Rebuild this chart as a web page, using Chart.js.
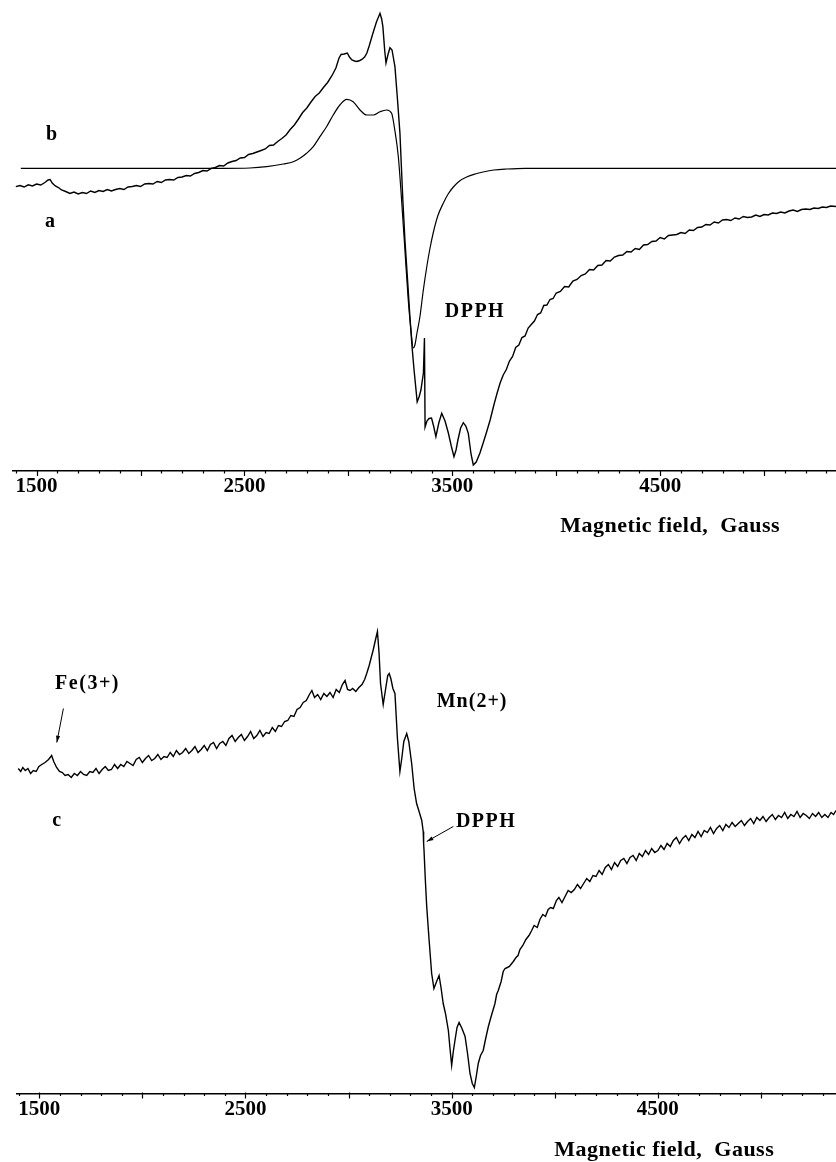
<!DOCTYPE html>
<html>
<head>
<meta charset="utf-8">
<title>EPR spectra</title>
<script src="https://cdn.jsdelivr.net/npm/chart.js@4.4.1/dist/chart.umd.min.js"></script>
<style>
  html, body { margin: 0; padding: 0; background: #fff; }
  body { width: 836px; height: 1162px; position: relative; overflow: hidden; }
  canvas { position: absolute; left: 0; }
  #topChart { top: 0; }
  #bottomChart { top: 560px; }
</style>
</head>
<body>
<canvas id="topChart" width="836" height="545"></canvas>
<canvas id="bottomChart" width="836" height="602"></canvas>
<script>
// magnetic field (Gauss) and signal (arbitrary units)
var labelTicks = [1500, 2500, 3500, 4500];

// top panel, spectrum a (noisy)
var fieldA = [1400, 1420, 1440, 1460, 1480, 1500, 1520, 1540, 1555, 1565, 1575, 1590, 1605, 1620, 1640, 1660, 1680, 1700, 1720, 1740,
  1760, 1780, 1800, 1820, 1840, 1860, 1880, 1900, 1920, 1940, 1960, 1980, 2000, 2020, 2040, 2060, 2080, 2100, 2120, 2140,
  2160, 2180, 2200, 2220, 2240, 2260, 2280, 2300, 2320, 2340, 2360, 2380, 2400, 2420, 2440, 2460, 2480, 2500, 2520, 2540,
  2560, 2580, 2600, 2620, 2640, 2660, 2680, 2700, 2720, 2740, 2760, 2780, 2800, 2820, 2840, 2860, 2880, 2900, 2920, 2940,
  2955, 2965, 2980, 2995, 3005, 3017, 3030, 3041, 3055, 3065, 3078, 3089, 3100, 3118, 3135, 3152, 3160, 3166, 3175, 3181,
  3190, 3200, 3210, 3224, 3235, 3248, 3262, 3272, 3285, 3296, 3306, 3316, 3331, 3340, 3349, 3361, 3366, 3369, 3378, 3388,
  3400, 3410, 3421, 3435, 3449, 3465, 3481, 3495, 3508, 3518, 3527, 3540, 3553, 3565, 3577, 3590, 3601, 3615, 3633, 3650,
  3665, 3682, 3700, 3715, 3730, 3745, 3760, 3775, 3790, 3805, 3820, 3835, 3850, 3865, 3880, 3895, 3910, 3925, 3940, 3955,
  3970, 3985, 4000, 4020, 4040, 4060, 4080, 4100, 4120, 4140, 4160, 4180, 4200, 4220, 4240, 4260, 4280, 4300, 4320, 4340,
  4360, 4380, 4400, 4420, 4440, 4460, 4480, 4500, 4520, 4540, 4560, 4580, 4600, 4620, 4640, 4660, 4680, 4700, 4720, 4740,
  4760, 4780, 4800, 4820, 4840, 4860, 4880, 4900, 4920, 4940, 4960, 4980, 5000, 5020, 5040, 5060, 5080, 5100, 5120, 5140,
  5160, 5180, 5200, 5220, 5240, 5260, 5280, 5300, 5320, 5346];
var signalA = [284.3, 285.5, 284.0, 286.2, 285.0, 287.0, 286.0, 288.5, 291.0, 291.5, 288.0, 285.0, 283.5, 281.0, 279.5, 277.5, 279.0, 277.0, 278.5, 277.5,
  280.0, 278.5, 280.5, 279.5, 281.5, 280.0, 281.5, 282.5, 281.5, 284.0, 284.5, 285.5, 284.5, 287.0, 287.5, 287.0, 289.5, 288.5, 291.0, 291.5,
  291.0, 293.5, 294.0, 295.5, 295.0, 297.5, 298.5, 300.5, 300.0, 302.5, 303.5, 305.5, 305.0, 308.0, 309.5, 310.5, 313.0, 313.5, 316.5, 317.5,
  319.0, 320.5, 322.0, 325.5, 326.0, 329.5, 332.5, 336.0, 341.5, 346.0, 352.0, 358.5, 363.0, 369.0, 374.5, 378.0, 383.5, 388.5, 395.0, 403.0,
  413.0, 416.5, 417.0, 418.0, 414.0, 411.0, 410.0, 409.5, 410.5, 411.5, 414.0, 418.0, 425.0, 437.7, 449.0, 457.7, 452.0, 444.3, 420.0, 408.0,
  416.0, 423.3, 421.0, 404.3, 375.0, 338.0, 271.0, 231.0, 190.0, 154.3, 125.0, 101.0, 69.3, 74.0, 81.0, 98.0, 133.0, 44.0, 50.0, 52.5,
  53.0, 45.0, 34.3, 48.0, 57.7, 50.0, 38.0, 25.0, 14.3, 21.0, 31.0, 43.0, 48.3, 45.0, 37.7, 17.0, 6.0, 9.0, 18.0, 29.0,
  39.0, 51.0, 66.0, 77.5, 88.0, 96.0, 101.5, 110.0, 114.5, 123.5, 126.0, 133.5, 135.0, 143.0, 146.5, 150.0, 156.5, 158.0, 165.5, 166.0,
  171.5, 172.5, 178.0, 179.5, 184.5, 184.0, 190.0, 191.5, 195.5, 197.0, 201.5, 201.0, 205.5, 206.0, 210.5, 210.0, 214.0, 215.5, 216.0, 219.5,
  219.0, 222.5, 221.5, 226.0, 226.5, 229.5, 230.0, 233.5, 232.0, 235.5, 236.0, 236.5, 238.5, 237.5, 241.0, 240.5, 243.5, 244.0, 246.5, 246.0,
  249.0, 248.0, 251.0, 251.5, 250.5, 253.0, 252.0, 254.5, 253.5, 254.0, 256.0, 254.5, 256.5, 256.0, 258.0, 257.5, 259.0, 258.0, 260.0, 261.0,
  259.5, 261.5, 262.0, 261.5, 263.0, 262.5, 264.0, 263.5, 265.0, 264.5];

// top panel, spectrum b (smooth)
var fieldB = [1424, 2300, 2400, 2526, 2607, 2687, 2735, 2767, 2799, 2831, 2863, 2895, 2927, 2959, 2992, 3023, 3056, 3088, 3120, 3152,
  3184, 3208, 3224, 3240, 3256, 3272, 3288, 3301, 3312, 3320, 3330, 3344, 3360, 3377, 3392, 3408, 3430, 3457, 3480, 3505,
  3535, 3569, 3610, 3648, 3700, 3762, 3850, 5346];
var signalB = [302.7, 302.7, 302.7, 303, 304.3, 307, 309.3, 312.7, 317.7, 324.3, 334.3, 344.3, 356, 366, 371.7, 369.3, 361, 356, 356, 359.3,
  361, 357.7, 340, 315, 271, 221, 171, 141, 123, 126, 138, 154, 180, 204, 222, 238, 255, 268, 277, 284,
  290, 294, 297, 299, 301, 302, 302.7, 302.7];

// bottom panel, spectrum c (noisy)
var fieldC = [1398, 1410, 1420, 1432, 1445, 1458, 1471, 1485, 1498, 1512, 1528, 1545, 1560, 1570, 1584, 1598, 1612, 1625, 1640, 1655,
  1670, 1685, 1700, 1715, 1730, 1745, 1760, 1775, 1790, 1805, 1820, 1835, 1850, 1865, 1880, 1895, 1910, 1925, 1940, 1955,
  1970, 1985, 2000, 2015, 2030, 2045, 2060, 2075, 2090, 2105, 2120, 2135, 2150, 2165, 2180, 2195, 2210, 2225, 2240, 2255,
  2270, 2285, 2300, 2315, 2330, 2345, 2360, 2375, 2390, 2405, 2420, 2435, 2450, 2465, 2480, 2495, 2510, 2525, 2540, 2555,
  2570, 2585, 2600, 2615, 2630, 2645, 2660, 2675, 2690, 2705, 2720, 2735, 2750, 2765, 2780, 2795, 2810, 2822, 2835, 2850,
  2865, 2880, 2895, 2910, 2925, 2940, 2955, 2970, 2983, 2995, 3007, 3020, 3035, 3050, 3065, 3078, 3088, 3100, 3110, 3120,
  3132, 3140, 3148, 3155, 3168, 3180, 3190, 3197, 3205, 3215, 3225, 3237, 3249, 3258, 3268, 3282, 3292, 3306, 3318, 3330,
  3342, 3355, 3362, 3364, 3366, 3372, 3379, 3390, 3403, 3414, 3427, 3439, 3449, 3459, 3470, 3484, 3492, 3500, 3508, 3516,
  3526, 3536, 3550, 3565, 3577, 3589, 3600, 3610, 3620, 3629, 3640, 3653, 3665, 3678, 3690, 3700, 3710, 3718, 3726, 3740,
  3750, 3759, 3770, 3780, 3799, 3812, 3822, 3831, 3845, 3860, 3875, 3888, 3900, 3915, 3928, 3942, 3955, 3968, 3980, 3993,
  4008, 4020, 4035, 4050, 4065, 4080, 4095, 4110, 4125, 4140, 4155, 4170, 4185, 4200, 4215, 4230, 4245, 4260, 4275, 4290,
  4305, 4320, 4335, 4350, 4365, 4380, 4395, 4410, 4425, 4440, 4455, 4470, 4485, 4500, 4515, 4530, 4545, 4560, 4575, 4590,
  4605, 4620, 4635, 4650, 4665, 4680, 4695, 4710, 4725, 4740, 4755, 4770, 4785, 4800, 4815, 4830, 4845, 4860, 4875, 4890,
  4905, 4920, 4935, 4950, 4965, 4980, 4995, 5010, 5025, 5040, 5055, 5070, 5085, 5100, 5115, 5130, 5145, 5160, 5175, 5190,
  5205, 5220, 5235, 5250, 5265, 5280, 5295, 5310, 5325, 5340, 5352, 5364];
var signalC = [325, 322, 326, 323, 325, 320, 323, 322, 327, 329, 331, 334, 338, 332, 326, 322, 321, 318, 319, 316,
  320, 318, 322, 319, 318, 322, 321, 325, 320, 324, 327, 323, 324, 329, 325, 329, 327, 332, 330, 328,
  334, 336, 331, 335, 338, 333, 335, 339, 334, 337, 336, 341, 337, 343, 339, 341, 345, 340, 343, 347,
  341, 344, 348, 343, 349, 351, 345, 350, 352, 348, 355, 358, 352, 356, 359, 353, 357, 362, 355, 358,
  363, 357, 361, 360, 366, 362, 368, 367, 372, 373, 378, 377, 384, 386, 391, 393, 399, 403, 396, 399,
  394, 400, 397, 401, 396, 404, 401, 409, 413, 404, 403, 405, 402, 406, 409, 414, 420, 428, 436, 444,
  455, 462, 440, 410, 389, 405, 418, 420, 415, 405, 400, 355, 322, 335, 352, 360, 352, 330, 305, 290,
  282, 273, 262, 250, 243, 215, 187, 155, 120, 105, 112, 118, 105, 90, 80, 63, 45, 28, 42, 53,
  66, 71, 65, 57, 40, 20, 10, 6, 18, 30, 38, 43, 55, 67, 76, 83, 90, 99, 103, 112,
  122, 125, 126, 127, 132, 136, 138, 144, 148, 154, 158, 163, 168, 166, 174, 179, 177, 184, 186, 185,
  193, 196, 191, 197, 203, 201, 204, 209, 205, 210, 215, 212, 218, 217, 223, 219, 226, 229, 224, 231,
  227, 233, 235, 230, 236, 238, 233, 240, 237, 243, 239, 245, 241, 243, 248, 244, 250, 247, 253, 256,
  250, 255, 258, 253, 259, 256, 262, 257, 263, 261, 266, 260, 265, 268, 263, 269, 266, 271, 267, 270,
  273, 268, 272, 275, 270, 276, 273, 277, 272, 276, 279, 274, 278, 276, 281, 275, 279, 277, 282, 276,
  280, 278, 275, 280, 277, 281, 276, 279, 276, 281, 279, 283];

var serif = '"Liberation Serif", "Times New Roman", serif';

function points(xs, ys) {
  return xs.map(function (x, i) { return { x: x, y: ys[i] }; });
}

// minor/major tick marks, text notes and arrows
var axisDecor = {
  id: 'axisDecor',
  afterDraw: function (chart, args, opts) {
    var ctx = chart.ctx;
    var xs = chart.scales.x, ys = chart.scales.y;
    var base = chart.chartArea.bottom;
    ctx.save();
    ctx.strokeStyle = '#000';
    ctx.lineWidth = 1.2;
    ctx.beginPath();
    for (var v = Math.ceil(xs.min / 100) * 100; v <= xs.max; v += 100) {
      var px = Math.round(xs.getPixelForValue(v)) + 0.5;
      var major = v % 500 === 0;
      ctx.moveTo(px, base - (major ? 1 : 0));
      ctx.lineTo(px, base + (major ? 5 : 2.5));
    }
    ctx.stroke();

    ctx.fillStyle = '#000';
    ctx.textAlign = 'center';
    ctx.textBaseline = 'middle';
    (opts.notes || []).forEach(function (n) {
      ctx.font = 'bold ' + (n.size || 20) + 'px ' + serif;
      ctx.letterSpacing = (n.spacing || 0) + 'px';
      var y = n.below != null ? base + n.below : ys.getPixelForValue(n.y);
      ctx.fillText(n.text, xs.getPixelForValue(n.x), y);
    });
    ctx.letterSpacing = '0px';

    ctx.lineWidth = 1;
    (opts.arrows || []).forEach(function (a) {
      var x1 = xs.getPixelForValue(a.from[0]), y1 = ys.getPixelForValue(a.from[1]);
      var x2 = xs.getPixelForValue(a.to[0]), y2 = ys.getPixelForValue(a.to[1]);
      var ang = Math.atan2(y2 - y1, x2 - x1);
      ctx.beginPath();
      ctx.moveTo(x1, y1);
      ctx.lineTo(x2, y2);
      ctx.stroke();
      ctx.beginPath();
      ctx.moveTo(x2, y2);
      ctx.lineTo(x2 - 7 * Math.cos(ang - 0.3), y2 - 7 * Math.sin(ang - 0.3));
      ctx.lineTo(x2 - 7 * Math.cos(ang + 0.3), y2 - 7 * Math.sin(ang + 0.3));
      ctx.closePath();
      ctx.fill();
    });
    ctx.restore();
  }
};

function spectrumOptions(xmin, xmax, ymax, padLeft, padBottom, notes, arrows) {
  return {
    responsive: false,
    animation: false,
    events: [],
    layout: { padding: { left: padLeft, right: 0, top: 0, bottom: padBottom } },
    plugins: {
      legend: { display: false },
      tooltip: { enabled: false },
      axisDecor: { notes: notes, arrows: arrows }
    },
    scales: {
      x: {
        type: 'linear',
        min: xmin,
        max: xmax,
        afterBuildTicks: function (axis) {
          axis.ticks = labelTicks.map(function (v) { return { value: v }; });
        },
        grid: { display: false, drawTicks: false },
        border: { display: true, color: '#000', width: 1.5 },
        ticks: {
          padding: 3,
          maxRotation: 0,
          autoSkip: false,
          color: '#000',
          font: { family: serif, size: 21, weight: 'bold' },
          callback: function (v) { return String(v); }
        }
      },
      y: { display: false, min: 0, max: ymax }
    }
  };
}

function trace(label, xs, ys, extra) {
  return Object.assign({
    label: label,
    data: points(xs, ys),
    borderColor: '#000',
    borderWidth: 1.4,
    pointRadius: 0,
    fill: false,
    tension: 0
  }, extra || {});
}

new Chart(document.getElementById('topChart').getContext('2d'), {
  type: 'line',
  data: {
    datasets: [
      trace('a', fieldA, signalA),
      trace('b', fieldB, signalB, { cubicInterpolationMode: 'monotone', borderWidth: 1.2 })
    ]
  },
  options: spectrumOptions(1385, 5346, 471, 12.7, 42.8,
    [
      { text: 'b', x: 1572, y: 336 },
      { text: 'a', x: 1564, y: 249 },
      { text: 'DPPH', x: 3609, y: 159, spacing: 1.5 },
      { text: 'Magnetic field,  Gauss', x: 4548, below: 55, size: 22, spacing: 0.5 }
    ],
    []),
  plugins: [axisDecor]
});

new Chart(document.getElementById('bottomChart').getContext('2d'), {
  type: 'line',
  data: {
    datasets: [
      trace('c', fieldC, signalC)
    ]
  },
  options: spectrumOptions(1390, 5364, 533.5, 16.6, 37.3,
    [
      { text: 'Fe(3+)', x: 1734, y: 410, spacing: 1.5 },
      { text: 'c', x: 1584, y: 273 },
      { text: 'Mn(2+)', x: 3599, y: 392, spacing: 1 },
      { text: 'DPPH', x: 3667, y: 272, spacing: 1.5 },
      { text: 'Magnetic field,  Gauss', x: 4531, below: 56.5, size: 22, spacing: 0.5 }
    ],
    [
      { from: [1617, 385], to: [1585, 351] },
      { from: [3508, 267], to: [3379, 252] }
    ]),
  plugins: [axisDecor]
});
</script>
</body>
</html>
